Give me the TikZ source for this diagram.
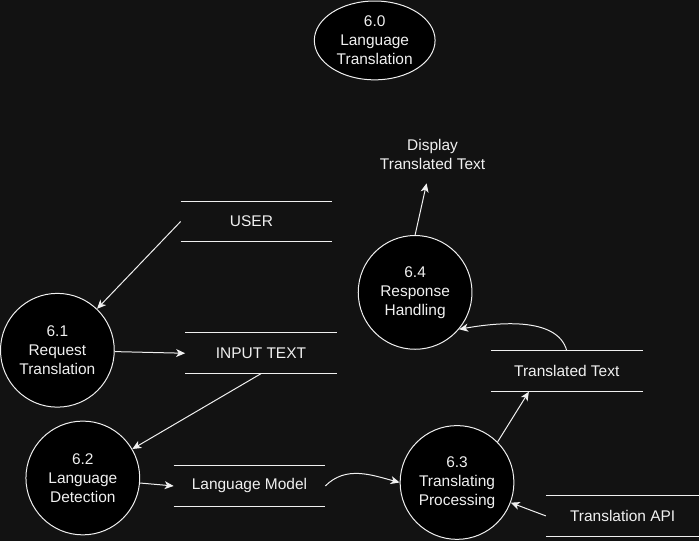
\documentclass[tikz,border=0pt]{standalone}
\usepackage{fontspec}
\setmainfont{Liberation Sans}
\usetikzlibrary{arrows.meta,shapes.geometric,positioning}
\definecolor{bgcol}{RGB}{18,18,18}
\definecolor{fgcol}{RGB}{240,240,240}
\tikzset{
  proc/.style={circle, draw=fgcol, fill=black, text=fgcol, minimum size=114pt, inner sep=0pt, align=center},
  store/.style={text=fgcol, minimum width=151pt, minimum height=40pt, inner sep=0pt,
    append after command={(\tikzlastnode.north west) edge[draw=fgcol] (\tikzlastnode.north east)
      (\tikzlastnode.south west) edge[draw=fgcol] (\tikzlastnode.south east)}},
  flow/.style={draw=fgcol, -{Stealth[length=9pt,width=8pt,inset=2.5pt]}},
}
\begin{document}
\begin{tikzpicture}[x=1pt,y=-1pt,line width=1pt,font=\fontsize{15.5pt}{19pt}\selectfont]
          \fill[bgcol] (0,0) rectangle (700,542);
          \node[ellipse, draw=fgcol, fill=black, text=fgcol, minimum width=121pt, minimum height=79pt, inner sep=0pt, align=center] (p60) at (375,40.5) {6.0\\Language\\Translation};
          \node[proc] (p61) at (57,351) {6.1\\Request\\Translation};
          \node[proc] (p62) at (82.5,479) {6.2\\Language\\Detection};
          \node[proc] (p63) at (457.5,483.5) {6.3\\Translating\\Processing};
          \node[proc] (p64) at (415.5,293) {6.4\\Response\\Handling};
          \node[store] (user) at (256.5,222) {USER\hspace*{10pt}};
          \node[store] (input) at (261,354) {INPUT TEXT};
          \node[store] (lm) at (249.5,487) {Language Model};
          \node[store] (tt) at (567.5,372) {Translated Text};
          \node[store, minimum width=153pt] (api) at (623.5,517) {Translation API};
          \node[text=fgcol, align=center, inner xsep=2pt, inner ysep=13pt] (disp) at (433,155) {Display\\Translated Text};
          \draw[flow] (user.west) -- (p61);
          \draw[flow] (p61) -- (input.west);
          \draw[flow] (input.south) -- (p62);
          \draw[flow] (p62) -- (lm.west);
          \draw[flow] (lm.east) to[out=45,in=165] (p63.west);
          \draw[flow] (p63.45) -- ([xshift=-38pt]tt.south);
          \draw[flow] (api.west) -- (p63);
          \draw[flow] (tt.north) to[out=105,in=10,looseness=0.85] (p64.-40);
          \draw[flow] (p64.north) -- ([xshift=-6pt]disp.south);
        \end{tikzpicture}
\end{document}
